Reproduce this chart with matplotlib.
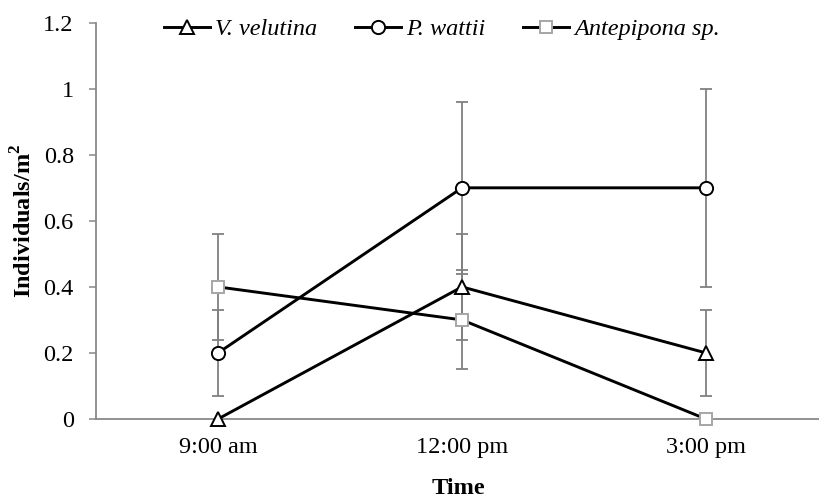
import numpy as np
import matplotlib.pyplot as plt

plt.rcParams['font.family'] = ['Liberation Serif', 'DejaVu Serif']

times = ['9:00 am', '12:00 pm', '3:00 pm']
velutina = [0.0, 0.4, 0.2]
velutina_err = [0.0, 0.16, 0.13]
wattii = [0.2, 0.7, 0.7]
wattii_err = [0.13, 0.26, 0.3]
antepipona = [0.4, 0.3, 0.0]
antepipona_err = [0.16, 0.15, 0.0]

fig = plt.figure(figsize=(8.2, 4.97), dpi=100)
ax = fig.add_axes([96 / 820, 78 / 497, 724 / 820, 396.3 / 497])

x = np.arange(len(times))
grey = '#808080'
fs = 17.5

series = [
    (velutina, velutina_err, 'V. velutina', '^', 'black', 10),
    (wattii, wattii_err, 'P. wattii', 'o', 'black', 9.5),
    (antepipona, antepipona_err, 'Antepipona sp.', 's', '#a6a6a6', 9),
]

for vals, err, name, mk, edge, ms in series:
    vals = np.array(vals)
    err = np.array(err)
    keep = err > 0
    ax.errorbar(x[keep], vals[keep], yerr=err[keep], fmt='none',
                ecolor=grey, elinewidth=1.3, capsize=4, capthick=1.3,
                zorder=1)
    ax.plot(x, vals, color='black', lw=2.1, marker=mk, markersize=ms,
            markerfacecolor='white', markeredgecolor=edge,
            markeredgewidth=1.4, label=name, zorder=3, clip_on=False)

ax.set_xlim(-0.5, 2.5 - 8 / 244)
ax.set_ylim(0, 1.2)
ax.set_yticks(np.arange(0, 1.21, 0.2))
ax.set_yticklabels(['0', '0.2', '0.4', '0.6', '0.8', '1', '1.2'])
ax.set_xticks(x)
ax.set_xticklabels(times)

for s in ['top', 'right']:
    ax.spines[s].set_visible(False)
for s in ['left', 'bottom']:
    ax.spines[s].set_color('#898989')
    ax.spines[s].set_linewidth(1.3)
ax.tick_params(axis='y', length=5, width=1.1, color='#898989',
               labelsize=fs, pad=11)
ax.tick_params(axis='x', length=0, labelsize=fs, pad=13)

ax.set_xlabel('Time', fontsize=fs, fontweight='bold', labelpad=14)
ax.set_ylabel('Individuals/m$^\\mathregular{2}$', fontsize=fs,
              fontweight='bold', labelpad=5)

fig.legend(loc='center', bbox_to_anchor=(442 / 820, 1 - 29 / 497), ncol=3,
           frameon=False, prop={'style': 'italic', 'size': fs},
           handlelength=1.9, handletextpad=0.2, columnspacing=1.55)

fig.savefig('out.png', dpi=100)
